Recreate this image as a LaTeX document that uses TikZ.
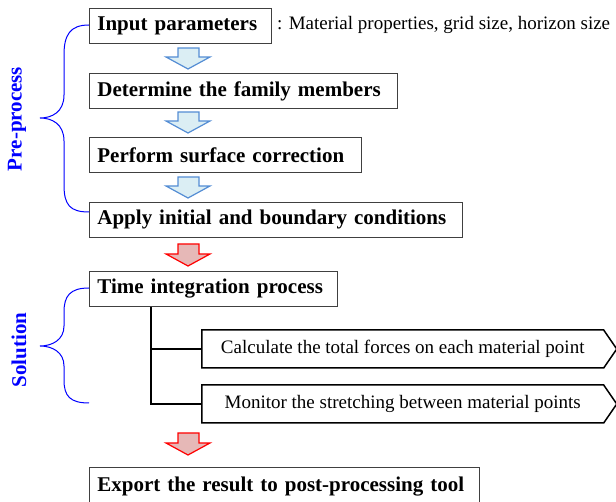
\documentclass[tikz,border=0pt]{standalone}
\usepackage{fontspec}
\setmainfont{Liberation Serif}
\usepackage{xcolor}
\usetikzlibrary{shapes.symbols}
\usetikzlibrary{calc}
\definecolor{arrowblue}{RGB}{84,141,212}
\definecolor{arrowfill}{RGB}{219,238,244}
\definecolor{arrowred}{RGB}{255,0,0}
\definecolor{redfill}{RGB}{230,184,183}

\begin{document}
\begin{tikzpicture}[x=1pt,y=-1pt,
  stepbox/.style={draw=black!75, line width=0.8pt, anchor=north west, minimum height=35pt,
    inner xsep=8pt, align=left, font=\fontsize{21}{25}\selectfont\bfseries},
  subbox/.style={signal, signal to=east, signal pointer angle=111, draw, line width=1.5pt,
    minimum width=415pt, minimum height=38pt, anchor=west, font=\fontsize{19}{22}\selectfont},
  bluearr/.style={draw=arrowblue, fill=arrowfill, line width=1.2pt, line join=miter},
  redarr/.style={draw=arrowred, fill=redfill, line width=1.2pt, line join=miter},
  phase/.style={blue, line width=1pt},
  phaselabel/.style={rotate=90, text=blue, font=\fontsize{21}{25}\selectfont\bfseries},
  conn/.style={line width=1.2pt}]
  \useasboundingbox (0,0) rectangle (616,502);
  \node[stepbox, text width=166pt] (input) at (89,8) {Input parameters};
  \node[anchor=west, inner sep=0pt, font=\fontsize{19}{22}\selectfont] (note) at (277,25)
       {: Material properties, grid size, horizon size};
  \node[stepbox, text width=292pt] (family) at (89,73) {Determine the family members};
  \node[stepbox, text width=256pt] (surface) at (89,137) {Perform surface correction};
  \node[stepbox, text width=357pt] (bc) at (89,202) {Apply initial and boundary conditions};
  \node[stepbox, text width=232pt] (timeint) at (89,271) {Time integration process};
  \node[subbox] (forces) at (201,349) {Calculate the total forces on each material point};
  \node[subbox] (stretch) at (201,404) {Monitor the stretching between material points};
  \node[stepbox, text width=374pt, minimum height=39pt] (export) at (89,467)
       {Export the result to post-processing tool};
  \foreach \y in {48,112,177}
    \draw[bluearr] (178,\y) -- (199,\y) -- (199,\y+9) -- (210,\y+9) -- (188,\y+21)
      -- (166,\y+9) -- (178,\y+9) -- cycle;
  \foreach \y in {244,433}
    \draw[redarr] (178,\y) -- (199,\y) -- (199,\y+10) -- (210,\y+10) -- (188,\y+22)
      -- (166,\y+10) -- (178,\y+10) -- cycle;
  \coordinate (trunk) at (151,404);
  \draw[conn] (timeint.south -| trunk) -- (trunk) -- (stretch.west);
  \draw[conn] (trunk |- forces.west) -- (forces.west);
  \draw[phase] (89,25) .. controls (70,25) and (64,35) .. (64,55) -- (64,95)
    .. controls (64,112) and (52,118) .. (40,118) .. controls (52,118) and (64,124) .. (64,141)
    -- (64,185) .. controls (64,205) and (70,212) .. (89,212);
  \draw[phase] (89,288) .. controls (70,288) and (64,296) .. (64,312) -- (64,326)
    .. controls (64,340) and (52,346) .. (40,346) .. controls (52,346) and (64,352) .. (64,366)
    -- (64,380) .. controls (64,396) and (70,403) .. (89,403);
  \node[phaselabel] (pre) at (17,119) {Pre-process};
  \node[phaselabel] (sol) at (19,350) {Solution};
\end{tikzpicture}
\end{document}
